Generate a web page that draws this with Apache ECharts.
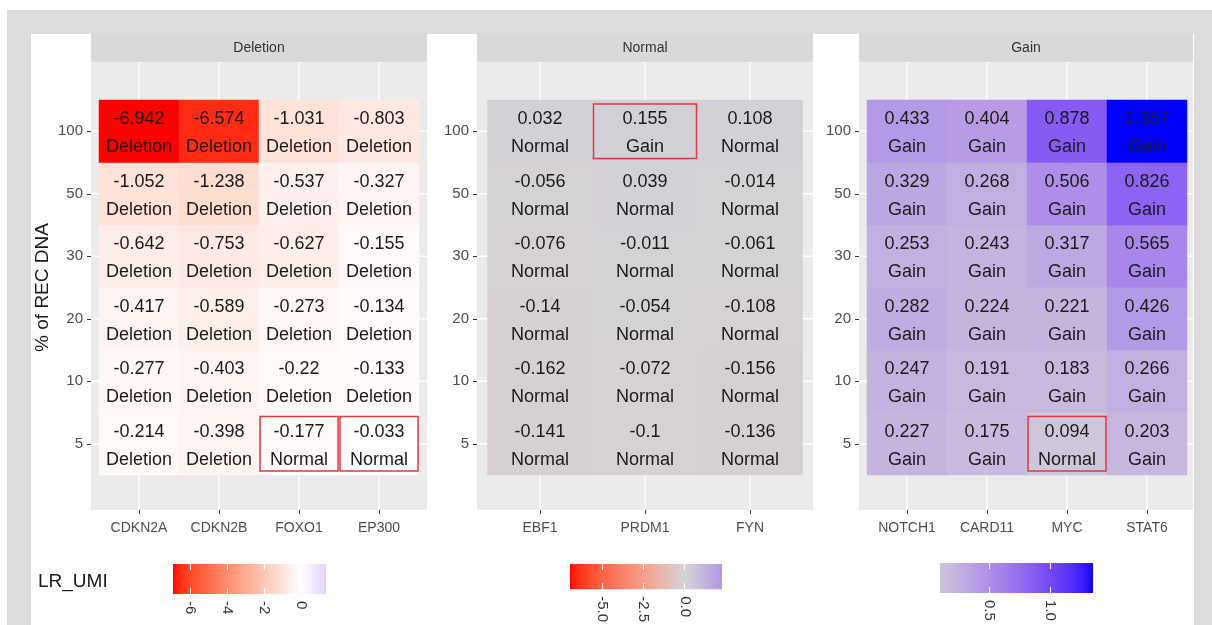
<!DOCTYPE html>
<html>
<head>
<meta charset="utf-8">
<title>LR_UMI</title>
<script src="https://cdn.jsdelivr.net/npm/echarts@6/dist/echarts.min.js"></script>
</head>
<body style="margin:0;padding:0;background:#fff">
<div id="main" style="width:1212px;height:625px;"></div>
<script type="text/javascript">
// ---- data ----
var levels = ['5', '10', '20', '30', '50', '100'];   // bottom -> top
var panels = ['Deletion', 'Normal', 'Gain'];

var delGenes = ['CDKN2A', 'CDKN2B', 'FOXO1', 'EP300'];
var delValues = [
  [-0.214, -0.398, -0.177, -0.033],
  [-0.277, -0.403, -0.22, -0.133],
  [-0.417, -0.589, -0.273, -0.134],
  [-0.642, -0.753, -0.627, -0.155],
  [-1.052, -1.238, -0.537, -0.327],
  [-6.942, -6.574, -1.031, -0.803]
];
var delStatus = [
  ['Deletion', 'Deletion', 'Normal', 'Normal'],
  ['Deletion', 'Deletion', 'Deletion', 'Deletion'],
  ['Deletion', 'Deletion', 'Deletion', 'Deletion'],
  ['Deletion', 'Deletion', 'Deletion', 'Deletion'],
  ['Deletion', 'Deletion', 'Deletion', 'Deletion'],
  ['Deletion', 'Deletion', 'Deletion', 'Deletion']
];

var normGenes = ['EBF1', 'PRDM1', 'FYN'];
var normValues = [
  [-0.141, -0.1, -0.136],
  [-0.162, -0.072, -0.156],
  [-0.14, -0.054, -0.108],
  [-0.076, -0.011, -0.061],
  [-0.056, 0.039, -0.014],
  [0.032, 0.155, 0.108]
];
var normStatus = [
  ['Normal', 'Normal', 'Normal'],
  ['Normal', 'Normal', 'Normal'],
  ['Normal', 'Normal', 'Normal'],
  ['Normal', 'Normal', 'Normal'],
  ['Normal', 'Normal', 'Normal'],
  ['Normal', 'Gain', 'Normal']
];

var gainGenes = ['NOTCH1', 'CARD11', 'MYC', 'STAT6'];
var gainValues = [
  [0.227, 0.175, 0.094, 0.203],
  [0.247, 0.191, 0.183, 0.266],
  [0.282, 0.224, 0.221, 0.426],
  [0.253, 0.243, 0.317, 0.565],
  [0.329, 0.268, 0.506, 0.826],
  [0.433, 0.404, 0.878, 1.357]
];
var gainStatus = [
  ['Gain', 'Gain', 'Normal', 'Gain'],
  ['Gain', 'Gain', 'Gain', 'Gain'],
  ['Gain', 'Gain', 'Gain', 'Gain'],
  ['Gain', 'Gain', 'Gain', 'Gain'],
  ['Gain', 'Gain', 'Gain', 'Gain'],
  ['Gain', 'Gain', 'Gain', 'Gain']
];

// colour bar ranges and ticks
var delBarRange = [-6.942, 1.357];
var delBarTicks = [-6, -4, -2, 0];
var delBarLabels = ['-6', '-4', '-2', '0'];
var normBarRange = [-6.942, 2.26];
var normBarTicks = [-5, -2.5, 0];
var normBarLabels = ['-5.0', '-2.5', '0.0'];
var gainBarRange = [0.094, 1.357];
var gainBarTicks = [0.5, 1.0];
var gainBarLabels = ['0.5', '1.0'];

// ---- colours: diverging gradient interpolated in Lab ----
function hex2rgb(h) {
  return [parseInt(h.slice(1, 3), 16), parseInt(h.slice(3, 5), 16), parseInt(h.slice(5, 7), 16)];
}
function toLin(c) { c /= 255; return c <= 0.04045 ? c / 12.92 : Math.pow((c + 0.055) / 1.055, 2.4); }
function fromLin(c) {
  c = c <= 0.0031308 ? 12.92 * c : 1.055 * Math.pow(c, 1 / 2.4) - 0.055;
  return Math.round(Math.max(0, Math.min(1, c)) * 255);
}
function rgb2lab(rgb) {
  var r = toLin(rgb[0]), g = toLin(rgb[1]), b = toLin(rgb[2]);
  var x = (0.4124 * r + 0.3576 * g + 0.1805 * b) / 0.95047;
  var y = 0.2126 * r + 0.7152 * g + 0.0722 * b;
  var z = (0.0193 * r + 0.1192 * g + 0.9505 * b) / 1.08883;
  function f(t) { return t > 0.008856 ? Math.cbrt(t) : 7.787 * t + 16 / 116; }
  return [116 * f(y) - 16, 500 * (f(x) - f(y)), 200 * (f(y) - f(z))];
}
function lab2hex(lab) {
  var fy = (lab[0] + 16) / 116, fx = fy + lab[1] / 500, fz = fy - lab[2] / 200;
  function fi(t) { var t3 = t * t * t; return t3 > 0.008856 ? t3 : (t - 16 / 116) / 7.787; }
  var x = 0.95047 * fi(fx), y = fi(fy), z = 1.08883 * fi(fz);
  var r = 3.2406 * x - 1.5372 * y - 0.4986 * z;
  var g = -0.9689 * x + 1.8758 * y + 0.0415 * z;
  var b = 0.0557 * x - 0.2040 * y + 1.0570 * z;
  return 'rgb(' + fromLin(r) + ',' + fromLin(g) + ',' + fromLin(b) + ')';
}
function gradient2(v, lim, mid) {
  var s = Math.max(Math.abs(lim[0]), Math.abs(lim[1]));
  var t = Math.max(0, Math.min(1, 0.5 + v / (2 * s)));
  var a, b, u;
  if (t < 0.5) { a = rgb2lab(hex2rgb('#FF0000')); b = rgb2lab(hex2rgb(mid)); u = t / 0.5; }
  else { a = rgb2lab(hex2rgb(mid)); b = rgb2lab(hex2rgb('#0000FF')); u = (t - 0.5) / 0.5; }
  return lab2hex([a[0] + (b[0] - a[0]) * u, a[1] + (b[1] - a[1]) * u, a[2] + (b[2] - a[2]) * u]);
}
function sampleColors(lim, mid) {
  var out = [], n = 61;
  for (var k = 0; k < n; k++) out.push(gradient2(lim[0] + (lim[1] - lim[0]) * k / (n - 1), lim, mid));
  return out;
}

// ---- layout ----
var FONT = 'Liberation Sans, Arial, sans-serif';
var stripTop = 34, stripH = 28, panelTop = 62, panelBottom = 510;
var tileTop = 100, tileH = 375;

var setup = [
  { name: panels[0], genes: delGenes, values: delValues, status: delStatus, range: delBarRange,
    ticks: delBarTicks, labels: delBarLabels, mid: '#FFFFFF',
    px: 91, pw: 336, tx: 99, tw: 320, bar: [173, 564, 153, 30] },
  { name: panels[1], genes: normGenes, values: normValues, status: normStatus, range: normBarRange,
    ticks: normBarTicks, labels: normBarLabels, mid: '#D4D3D6',
    px: 477, pw: 336, tx: 487.5, tw: 315, bar: [570, 564, 152, 30] },
  { name: panels[2], genes: gainGenes, values: gainValues, status: gainStatus, range: gainBarRange,
    ticks: gainBarTicks, labels: gainBarLabels, mid: '#D4D3D6',
    px: 859, pw: 334, tx: 867, tw: 320, bar: [940, 563, 153, 30] }
];

var grids = [], xAxes = [], yAxes = [], series = [], visualMaps = [];
var graphics = [
  { type: 'rect', z: -10, shape: { x: 7, y: 10, width: 1205, height: 615 }, style: { fill: '#dcdcdc' } },
  { type: 'rect', z: -9, shape: { x: 31, y: 34, width: 1163, height: 591 }, style: { fill: '#ffffff' } }
];

setup.forEach(function (p, i) {
  graphics.push({ type: 'rect', z: -8, shape: { x: p.px, y: panelTop, width: p.pw, height: panelBottom - panelTop },
    style: { fill: '#ebebeb' } });
  graphics.push({ type: 'rect', z: -8, shape: { x: p.px, y: stripTop, width: p.pw, height: stripH },
    style: { fill: '#d9d9d9' } });
  graphics.push({ type: 'text', z: -7, x: p.px + p.pw / 2, y: stripTop + stripH / 2,
    style: { text: p.name, align: 'center', verticalAlign: 'middle', fontSize: 14, fontFamily: FONT, fill: '#333' } });

  grids.push({ left: p.tx, top: tileTop, width: p.tw, height: tileH });
  xAxes.push({
    gridIndex: i, type: 'category', data: p.genes, offset: panelBottom - tileTop - tileH,
    axisLine: { show: false },
    axisTick: { show: true, alignWithLabel: true, length: 4, lineStyle: { color: '#333' } },
    axisLabel: { fontSize: 14, color: '#4d4d4d', margin: 11, fontFamily: FONT },
    splitLine: { show: false }
  });
  yAxes.push({
    gridIndex: i, type: 'category', data: levels, offset: p.tx - p.px,
    axisLine: { show: false },
    axisTick: { show: true, alignWithLabel: true, length: 4, lineStyle: { color: '#333' } },
    axisLabel: { fontSize: 15, color: '#4d4d4d', margin: 8, fontFamily: FONT },
    splitLine: { show: false },
    name: i === 0 ? '% of REC DNA' : '', nameLocation: 'middle', nameGap: 39, nameRotate: 90,
    nameTextStyle: { fontSize: 19, color: '#1a1a1a', fontFamily: FONT }
  });

  var cells = [], boxes = [];
  p.values.forEach(function (row, r) {
    row.forEach(function (v, c) {
      cells.push([c, r, v]);
      if (p.status[r][c] !== p.name) boxes.push([c, r]);
    });
  });

  // white panel grid lines (under the tiles)
  series.push({
    type: 'custom', xAxisIndex: i, yAxisIndex: i, z: 1, silent: true,
    data: p.genes.map(function (g, c) { return [c, 0]; }),
    renderItem: function (params, api) {
      var x = api.coord([api.value(0), 0])[0];
      return { type: 'line', shape: { x1: x, y1: panelTop, x2: x, y2: panelBottom },
        style: { stroke: '#ffffff', lineWidth: 1.3 } };
    }
  });
  series.push({
    type: 'custom', xAxisIndex: i, yAxisIndex: i, z: 1, silent: true,
    data: levels.map(function (l, r) { return [0, r]; }),
    renderItem: function (params, api) {
      var y = api.coord([0, api.value(1)])[1];
      return { type: 'line', shape: { x1: p.px, y1: y, x2: p.px + p.pw, y2: y },
        style: { stroke: '#ffffff', lineWidth: 1.3 } };
    }
  });
  var status = p.status;
  series.push({
    type: 'heatmap', xAxisIndex: i, yAxisIndex: i, z: 2, data: cells,
    label: {
      show: true, fontSize: 18, lineHeight: 28, color: '#1a1a1a', fontFamily: FONT, offset: [0, 2],
      formatter: function (d) { return d.value[2] + '\n' + status[d.value[1]][d.value[0]]; }
    },
    emphasis: { disabled: true }
  });
  visualMaps.push({
    type: 'continuous', show: false, seriesIndex: series.length - 1, dimension: 2,
    min: p.range[0], max: p.range[1], inRange: { color: sampleColors(p.range, p.mid) }
  });
  series.push({
    type: 'custom', xAxisIndex: i, yAxisIndex: i, z: 4, silent: true, data: boxes,
    renderItem: function (params, api) {
      var c = api.coord([api.value(0), api.value(1)]);
      var s = api.size([1, 1]);
      return { type: 'rect', shape: { x: c[0] - s[0] / 2 + 1, y: c[1] - s[1] / 2 + 4, width: s[0] - 2, height: s[1] - 8 },
        style: { fill: 'none', stroke: '#e0393e', lineWidth: 1.5 } };
    }
  });
});

// colour bars
setup.forEach(function (p, i) {
  var gi = grids.length;
  var cols = sampleColors(p.range, p.mid);
  grids.push({
    left: p.bar[0], top: p.bar[1], width: p.bar[2], height: p.bar[3], show: true, borderWidth: 0,
    backgroundColor: { type: 'linear', x: 0, y: 0, x2: 1, y2: 0,
      colorStops: cols.map(function (c, k) { return { offset: k / (cols.length - 1), color: c }; }) }
  });
  var labels = p.labels, ticks = p.ticks;
  xAxes.push({
    gridIndex: gi, type: 'value', min: p.range[0], max: p.range[1], position: 'bottom',
    axisLine: { show: false }, splitLine: { show: false },
    axisTick: { show: true, inside: true, length: 6, customValues: ticks, lineStyle: { color: '#ffffff', width: 1 } },
    axisLabel: { customValues: ticks, rotate: -90, margin: 7, fontSize: 15, color: '#333', fontFamily: FONT,
      formatter: function (v) { return labels[ticks.indexOf(v)]; } }
  });
  xAxes.push({
    gridIndex: gi, type: 'value', min: p.range[0], max: p.range[1], position: 'top',
    axisLine: { show: false }, splitLine: { show: false }, axisLabel: { show: false },
    axisTick: { show: true, inside: true, length: 6, customValues: ticks, lineStyle: { color: '#ffffff', width: 1 } }
  });
  yAxes.push({ gridIndex: gi, type: 'value', show: false });
});

var option = {
  backgroundColor: '#ffffff',
  animation: false,
  textStyle: { fontFamily: FONT },
  title: { text: 'LR_UMI', left: 33, top: 567, textStyle: { fontSize: 19, fontWeight: 'normal', color: '#1a1a1a', fontFamily: FONT } },
  graphic: graphics,
  grid: grids,
  xAxis: xAxes,
  yAxis: yAxes,
  visualMap: visualMaps,
  series: series
};

var myChart = echarts.init(document.getElementById('main'));
myChart.setOption(option);
</script>
</body>
</html>
